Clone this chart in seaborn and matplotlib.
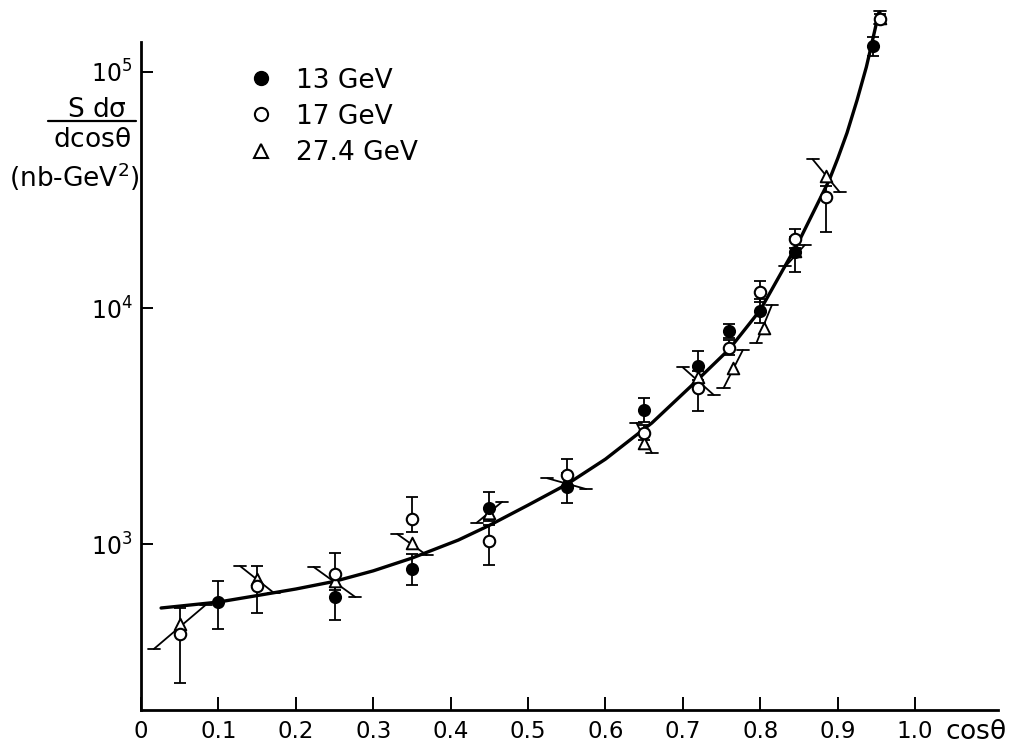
import numpy as np
import pandas as pd
import matplotlib.pyplot as plt
import seaborn as sns
from matplotlib.lines import Line2D

# 13 GeV, filled circles
x13 = [0.10, 0.25, 0.35, 0.45, 0.55, 0.65, 0.72, 0.76, 0.80, 0.845, 0.945]
y13 = [568, 596, 783, 1420, 1745, 3700, 5680, 8000, 9700, 17300, 128800]
lo13 = [436, 476, 670, 1250, 1493, 3300, 4950, 7450, 8600, 14200, 117000]
hi13 = [697, 740, 910, 1660, 2000, 4160, 6570, 8550, 10900, 20000, 140000]

# 17 GeV, open circles
x17 = [0.05, 0.15, 0.25, 0.35, 0.45, 0.55, 0.65, 0.72, 0.76, 0.80, 0.845, 0.885, 0.955]
y17 = [416, 664, 747, 1276, 1030, 1959, 2950, 4580, 6780, 11700, 19600, 29500, 168000]
lo17 = [258, 510, 640, 1120, 815, 1760, 2750, 3660, 6300, 10600, 18000, 21000, 160000]
hi17 = [536, 807, 916, 1582, 1200, 2291, 3200, 5400, 7300, 13000, 21600, 33000, 176000]

# 27.4 GeV, open triangles (error bars drawn slanted in the original)
x27 = [0.05, 0.15, 0.25, 0.35, 0.45, 0.55, 0.65, 0.72, 0.765, 0.805, 0.845, 0.885, 0.955]
y27 = [458, 711, 697, 1010, 1350, 1866, 2680, 5100, 5570, 8230, 17500, 36200, 170000]
lo27 = [359, 620, 596, 898, 1230, 1710, 2430, 4280, 4580, 7110, 15000, 31000, 160000]
hi27 = [552, 807, 800, 1103, 1510, 1900, 3260, 5600, 6640, 10300, 18500, 42700, 182000]
tilt27 = [-0.067, 0.044, 0.054, 0.038, -0.033, 0.05, 0.02, 0.04, -0.025, -0.02, -0.025, 0.035, 0.0]

# fitted curve
curve_x = [0.026, 0.05, 0.10, 0.15, 0.20, 0.25, 0.30, 0.35, 0.41, 0.45, 0.50, 0.55, 0.60,
           0.66, 0.71, 0.76, 0.80, 0.85, 0.889, 0.90, 0.912, 0.925, 0.937, 0.943, 0.953]
curve_y = [536, 546, 568, 605, 645, 695, 770, 872, 1040, 1200, 1462, 1790, 2290,
           3260, 4650, 6700, 9810, 19200, 34800, 43000, 55200, 76000, 105000, 127600, 178000]

xtick_vals = [0, 0.1, 0.2, 0.3, 0.4, 0.5, 0.6, 0.7, 0.8, 0.9, 1.0]
xtick_labels = ['0', '0.1', '0.2', '0.3', '0.4', '0.5', '0.6', '0.7', '0.8', '0.9', '1.0']
ytick_vals = [1e3, 1e4, 1e5]
ytick_labels = [r'$10^3$', r'$10^4$', r'$10^5$']

sns.set_style('ticks')
plt.rcParams['font.family'] = ['DejaVu Sans']
plt.rcParams['mathtext.default'] = 'regular'
for key in ['text.color', 'xtick.color', 'ytick.color', 'axes.edgecolor', 'axes.labelcolor']:
    plt.rcParams[key] = 'black'

fig = plt.figure(figsize=(10.2, 7.44), dpi=100)
ax = fig.add_axes([0.1382, 0.0457, 0.8402, 0.9543])
ax.set_yscale('log')

curve = pd.DataFrame({'x': curve_x, 'y': curve_y})
sns.lineplot(data=curve, x='x', y='y', ax=ax, color='black', lw=2.4,
             sort=False, estimator=None, zorder=2)

err_kw = dict(fmt='none', ecolor='black', elinewidth=1.3, capsize=4.3, capthick=1.3, zorder=2)
for xs, ys, lo, hi in [(x13, y13, lo13, hi13), (x17, y17, lo17, hi17)]:
    ys = np.asarray(ys, float)
    ax.errorbar(xs, ys, yerr=[ys - np.asarray(lo), np.asarray(hi) - ys], **err_kw)

cap = 0.0078
for xi, l, h, t in zip(x27, lo27, hi27, tilt27):
    xt, xb = xi - t / 2, xi + t / 2
    ax.plot([xt, xb], [h, l], color='black', lw=1.3, zorder=2)
    ax.plot([xt - cap, xt + cap], [h, h], color='black', lw=1.3, zorder=2)
    ax.plot([xb - cap, xb + cap], [l, l], color='black', lw=1.3, zorder=2)

sns.scatterplot(x=x27, y=y27, marker='^', s=70, facecolor='white', edgecolor='black',
                linewidth=1.4, ax=ax, zorder=3)
sns.scatterplot(x=x17, y=y17, marker='o', s=68, facecolor='white', edgecolor='black',
                linewidth=1.5, ax=ax, zorder=4)
sns.scatterplot(x=x13, y=y13, marker='o', s=68, facecolor='black', edgecolor='black',
                linewidth=1.2, ax=ax, zorder=5)

ax.set_xlim(0, 1.107)
ax.set_ylim(10 ** 2.297, 10 ** 5.305)
ax.spines['left'].set_bounds(10 ** 2.297, 10 ** 5.127)
for side in ['top', 'right']:
    ax.spines[side].set_visible(False)
for side in ['left', 'bottom']:
    ax.spines[side].set_linewidth(2.0)

ax.set_xticks(xtick_vals)
ax.set_xticklabels(xtick_labels, fontsize=16.5)
ax.set_yticks(ytick_vals)
ax.set_yticklabels(ytick_labels, fontsize=17)
ax.yaxis.set_minor_locator(plt.NullLocator())
ax.tick_params(axis='x', direction='in', length=9.4, width=1.4, pad=7)
ax.tick_params(axis='y', direction='in', length=8.6, width=1.4, pad=6)
ax.set_xlabel('')
ax.set_ylabel('')

ax.annotate(r'cos$\theta$', xy=(1.039, 0), xycoords=ax.get_xaxis_transform(),
            xytext=(0, -16), textcoords='offset points', ha='left', va='center', fontsize=19)

# y label as a fraction
fig.text(0.095, 0.852, r'S d$\sigma$', ha='center', va='center', fontsize=19)
fig.add_artist(Line2D([0.047, 0.133], [0.837, 0.837], color='black', lw=1.6,
                      transform=fig.transFigure))
fig.text(0.090, 0.812, r'dcos$\theta$', ha='center', va='center', fontsize=19)
fig.text(0.073, 0.762, r'(nb-GeV$^2$)', ha='center', va='center', fontsize=19)

handles = [
    Line2D([], [], ls='none', marker='o', ms=10, mfc='black', mec='black'),
    Line2D([], [], ls='none', marker='o', ms=9.5, mfc='white', mec='black', mew=1.5),
    Line2D([], [], ls='none', marker='^', ms=10, mfc='white', mec='black', mew=1.5),
]
ax.legend(handles, ['13 GeV', '17 GeV', '27.4 GeV'], loc='upper left',
          bbox_to_anchor=(0.243, 0.909), bbox_transform=fig.transFigure,
          frameon=False, fontsize=19, handlelength=1.0, handletextpad=0.83,
          labelspacing=0.38, borderpad=0, borderaxespad=0)

fig.savefig('out.png', dpi=100)
